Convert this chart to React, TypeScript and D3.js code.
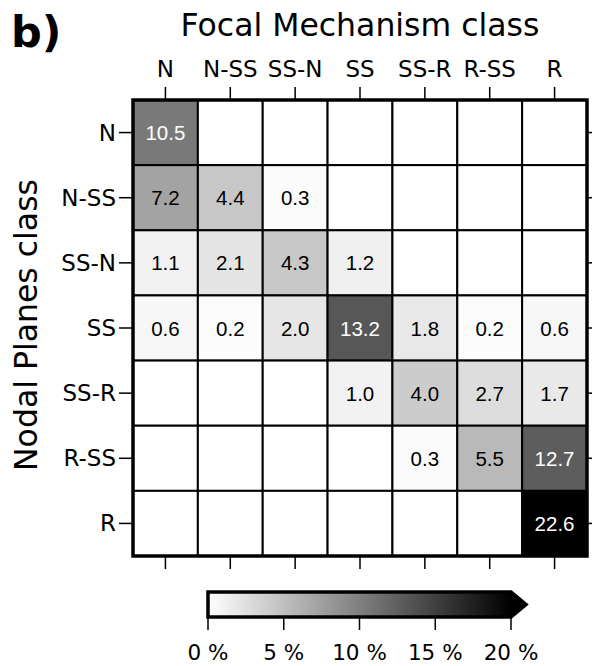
import React from "react";
import * as d3 from "d3";

// focal mechanism classes (columns) / nodal planes classes (rows)
const focalClasses = ["N", "N-SS", "SS-N", "SS", "SS-R", "R-SS", "R"];
const nodalClasses = ["N", "N-SS", "SS-N", "SS", "SS-R", "R-SS", "R"];

// percentages, one row per nodal planes class, null = empty cell
const rowN = [10.5, null, null, null, null, null, null];
const rowNSS = [7.2, 4.4, 0.3, null, null, null, null];
const rowSSN = [1.1, 2.1, 4.3, 1.2, null, null, null];
const rowSS = [0.6, 0.2, 2.0, 13.2, 1.8, 0.2, 0.6];
const rowSSR = [null, null, null, 1.0, 4.0, 2.7, 1.7];
const rowRSS = [null, null, null, null, 0.3, 5.5, 12.7];
const rowR = [null, null, null, null, null, null, 22.6];
const matrix = [rowN, rowNSS, rowSSN, rowSS, rowSSR, rowRSS, rowR];

const colorbarTicks = [0, 5, 10, 15, 20];

const W = 592;
const H = 666;
const grid = { left: 133, right: 587, top: 100, bottom: 556 };
const cbar = { left: 208, right: 511, top: 592, bottom: 617, tip: 526 };

const dejavu = "'DejaVu Sans', sans-serif";
const liberation = "'Liberation Sans', Arial, sans-serif";

export default function App() {
  const x = d3.scaleBand<string>().domain(focalClasses).range([grid.left, grid.right]);
  const y = d3.scaleBand<string>().domain(nodalClasses).range([grid.top, grid.bottom]);
  const color = d3.scaleLinear<string>().domain([0, 20]).range(["#ffffff", "#000000"]).clamp(true);
  const cx = d3.scaleLinear().domain([0, 20]).range([cbar.left, cbar.right]);

  const cells: { r: string; c: string; v: number | null }[] = [];
  matrix.forEach((row, i) =>
    row.forEach((v, j) => cells.push({ r: nodalClasses[i], c: focalClasses[j], v }))
  );

  const midY = (cbar.top + cbar.bottom) / 2;
  const barPath = `M${cbar.left},${cbar.top}H${cbar.right}L${cbar.tip},${midY}L${cbar.right},${cbar.bottom}H${cbar.left}Z`;

  return (
    <div style={{ position: "absolute", left: 0, top: 0 }}>
      <svg width={W} height={H} style={{ display: "block" }}>
        <defs>
          <linearGradient id="greys" x1={cbar.left} x2={cbar.right} y1={0} y2={0} gradientUnits="userSpaceOnUse">
            <stop offset="0%" stopColor="#ffffff" />
            <stop offset="100%" stopColor="#000000" />
          </linearGradient>
        </defs>
        <rect width={W} height={H} fill="#fff" />

        <text x={11} y={47} fontFamily={dejavu} fontWeight="bold" fontSize={43}>b)</text>

        <text x={(grid.left + grid.right) / 2} y={36} textAnchor="middle" fontFamily={dejavu} fontSize={31.5}>
          Focal Mechanism class
        </text>
        <text
          transform={`translate(37, ${(grid.top + grid.bottom) / 2 - 3}) rotate(-90)`}
          textAnchor="middle"
          fontFamily={dejavu}
          fontSize={31.5}
        >
          Nodal Planes class
        </text>

        {cells.map((d, i) => (
          <g key={i}>
            <rect
              x={x(d.c)}
              y={y(d.r)}
              width={x.bandwidth()}
              height={y.bandwidth()}
              fill={d.v == null ? "#ffffff" : color(d.v)}
              stroke="#000"
              strokeWidth={2}
            />
            {d.v != null && (
              <text
                x={(x(d.c) as number) + x.bandwidth() / 2}
                y={(y(d.r) as number) + y.bandwidth() / 2}
                textAnchor="middle"
                dominantBaseline="central"
                fontFamily={liberation}
                fontSize={20.5}
                fill={d.v > 10 ? "#fff" : "#000"}
              >
                {d.v.toFixed(1)}
              </text>
            )}
          </g>
        ))}
        <rect
          x={grid.left}
          y={grid.top}
          width={grid.right - grid.left}
          height={grid.bottom - grid.top}
          fill="none"
          stroke="#000"
          strokeWidth={3.5}
        />

        {focalClasses.map((c) => {
          const px = (x(c) as number) + x.bandwidth() / 2;
          return (
            <g key={"t" + c}>
              <line x1={px} x2={px} y1={grid.top - 13} y2={grid.top - 1} stroke="#000" strokeWidth={1.5} />
              <line x1={px} x2={px} y1={grid.bottom + 1} y2={grid.bottom + 13} stroke="#000" strokeWidth={1.5} />
              <text x={px} y={77} textAnchor="middle" fontFamily={dejavu} fontSize={23}>
                {c}
              </text>
            </g>
          );
        })}
        {nodalClasses.map((r) => {
          const py = (y(r) as number) + y.bandwidth() / 2;
          return (
            <g key={"l" + r}>
              <line x1={grid.left - 14} x2={grid.left - 1} y1={py} y2={py} stroke="#000" strokeWidth={1.5} />
              <line x1={grid.right + 1} x2={grid.right + 14} y1={py} y2={py} stroke="#000" strokeWidth={1.5} />
              <text
                x={grid.left - 17}
                y={py}
                textAnchor="end"
                dominantBaseline="central"
                fontFamily={dejavu}
                fontSize={23}
              >
                {r}
              </text>
            </g>
          );
        })}

        {/* colorbar with "max" extension arrow */}
        <path d={barPath} fill="url(#greys)" />
        <path
          d={`M${cbar.right},${cbar.top}L${cbar.tip},${midY}L${cbar.right},${cbar.bottom}Z`}
          fill="#000"
        />
        <path d={barPath} fill="none" stroke="#000" strokeWidth={3.5} />
        {colorbarTicks.map((t) => (
          <g key={"c" + t}>
            <line x1={cx(t)} x2={cx(t)} y1={cbar.bottom + 1} y2={cbar.bottom + 13} stroke="#000" strokeWidth={1.5} />
            <text x={cx(t)} y={660} textAnchor="middle" fontFamily={dejavu} fontSize={21.5}>
              {t} %
            </text>
          </g>
        ))}
      </svg>
    </div>
  );
}
